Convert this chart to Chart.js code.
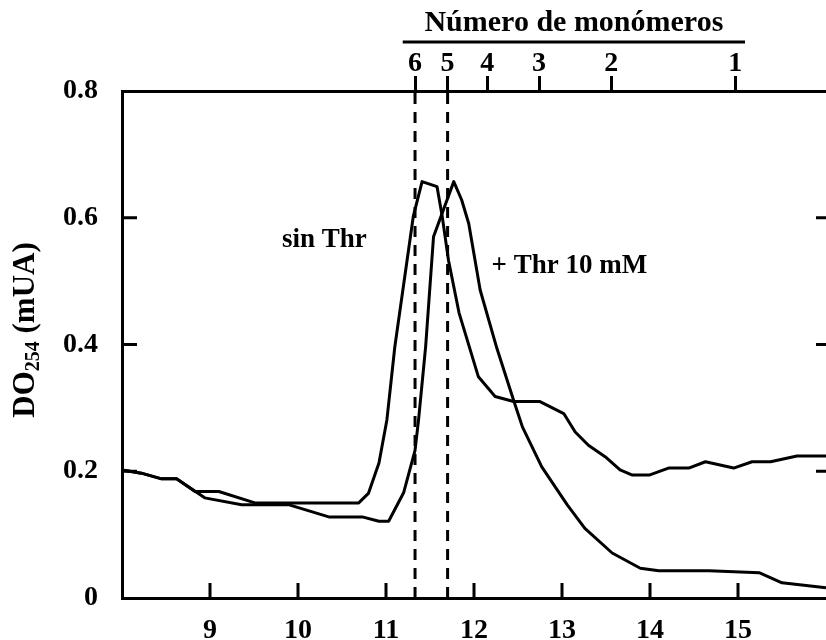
<!DOCTYPE html>
<html>
<head>
<meta charset="utf-8">
<script src="https://cdn.jsdelivr.net/npm/chart.js@4.4.1/dist/chart.umd.min.js"></script>
<style>
  html, body { margin: 0; padding: 0; background: #fff; }
  #wrap { width: 826px; height: 640px; }
</style>
</head>
<body>
<div id="wrap"><canvas id="perfil"></canvas></div>
<script>
// perfil de elución sin treonina
var volSinThr = [8.0, 8.22, 8.45, 8.62, 8.83, 9.10, 9.51, 10.69, 10.80, 10.92, 11.01, 11.10, 11.31, 11.41,
                 11.58, 11.64, 11.71, 11.83, 12.05, 12.24, 12.45, 12.75, 13.02, 13.15, 13.30, 13.49, 13.66,
                 13.80, 13.99, 14.21, 14.44, 14.63, 14.95, 15.16, 15.37, 15.67, 16.0];
var absSinThr = [0.202, 0.197, 0.188, 0.188, 0.168, 0.168, 0.150, 0.150, 0.165, 0.213, 0.281, 0.396, 0.602, 0.657,
                 0.649, 0.601, 0.533, 0.450, 0.349, 0.318, 0.310, 0.310, 0.291, 0.262, 0.241, 0.223, 0.202,
                 0.194, 0.194, 0.205, 0.205, 0.215, 0.205, 0.215, 0.215, 0.224, 0.224];

// perfil de elución con Thr 10 mM
var volConThr = [8.0, 8.22, 8.45, 8.62, 8.94, 9.36, 9.90, 10.35, 10.73, 10.92, 11.03, 11.20, 11.33, 11.37,
                 11.45, 11.54, 11.77, 11.86, 11.94, 12.07, 12.26, 12.45, 12.55, 12.77, 13.06, 13.26, 13.57,
                 13.89, 14.10, 14.67, 15.24, 15.50, 16.0];
var absConThr = [0.202, 0.197, 0.188, 0.188, 0.158, 0.147, 0.147, 0.128, 0.128, 0.121, 0.121, 0.166, 0.233, 0.281,
                 0.396, 0.570, 0.657, 0.628, 0.591, 0.486, 0.394, 0.312, 0.270, 0.207, 0.147, 0.110, 0.071,
                 0.047, 0.043, 0.043, 0.040, 0.024, 0.016];

// patrones de tamaño: número de monómeros y su volumen de elución
var monomeros = ['6', '5', '4', '3', '2', '1'];
var volMonomeros = [11.33, 11.70, 12.15, 12.74, 13.56, 14.97];
// líneas discontinuas en el hexámero y el pentámero
var volMarcas = [volMonomeros[0], volMonomeros[1]];

var rangoX = [8, 16];
var rangoY = [0, 0.8];
var tramoTitulo = [11.19, 15.08];

var serif = '"Liberation Serif", "Times New Roman", serif';
var negro = '#000';

function puntos(xs, ys) {
    return xs.map(function (x, i) { return { x: x, y: ys[i] }; });
}

var datasets = [
    { data: puntos(volSinThr, absSinThr) },
    { data: puntos(volConThr, absConThr) }
];
volMarcas.forEach(function (v) {
    datasets.push({ data: [{ x: v, y: rangoY[0] }, { x: v, y: rangoY[1] }], borderDash: [11, 8], clip: false });
});

var anotaciones = {
    id: 'anotaciones',
    afterDraw: function (chart) {
        var ctx = chart.ctx, area = chart.chartArea;
        var x = chart.scales.x, y = chart.scales.y;
        ctx.save();
        ctx.strokeStyle = negro;
        ctx.fillStyle = negro;
        ctx.lineWidth = 3;

        // marcas hacia dentro en los ejes
        ctx.beginPath();
        x.ticks.forEach(function (t) {
            if (t.value <= rangoX[0] || t.value >= rangoX[1]) return;
            var px = x.getPixelForValue(t.value);
            ctx.moveTo(px, area.bottom);
            ctx.lineTo(px, area.bottom - 15);
        });
        y.ticks.forEach(function (t) {
            if (t.value <= rangoY[0] || t.value >= rangoY[1]) return;
            var py = y.getPixelForValue(t.value);
            ctx.moveTo(area.left, py);
            ctx.lineTo(area.left + 15, py);
            ctx.moveTo(area.right, py);
            ctx.lineTo(area.right - 10, py);
        });
        ctx.stroke();

        // título del eje superior con su raya
        var x0 = x.getPixelForValue(tramoTitulo[0]), x1 = x.getPixelForValue(tramoTitulo[1]);
        ctx.beginPath();
        ctx.moveTo(x0, 42);
        ctx.lineTo(x1, 42);
        ctx.stroke();
        ctx.font = 'bold 30px ' + serif;
        ctx.textAlign = 'center';
        ctx.textBaseline = 'alphabetic';
        ctx.fillText('Número de monómeros', (x0 + x1) / 2, 31);

        // rótulos de las curvas
        ctx.font = 'bold 27px ' + serif;
        ctx.textBaseline = 'middle';
        ctx.textAlign = 'center';
        ctx.fillText('sin Thr', x.getPixelForValue(10.3), y.getPixelForValue(0.565));
        ctx.textAlign = 'left';
        ctx.fillText('+ Thr 10 mM', x.getPixelForValue(12.2), y.getPixelForValue(0.524));

        // título del eje Y con subíndice
        var partes = [
            { t: 'DO', f: 'bold 31px ' + serif, dy: 0 },
            { t: '254', f: 'bold 20px ' + serif, dy: 8 },
            { t: ' (mUA)', f: 'bold 31px ' + serif, dy: 0 }
        ];
        var ancho = 0;
        partes.forEach(function (p) { ctx.font = p.f; p.w = ctx.measureText(p.t).width; ancho += p.w; });
        ctx.translate(26, 330);
        ctx.rotate(-Math.PI / 2);
        ctx.textAlign = 'left';
        ctx.textBaseline = 'middle';
        var cx = -ancho / 2;
        partes.forEach(function (p) {
            ctx.font = p.f;
            ctx.fillText(p.t, cx, p.dy);
            cx += p.w;
        });
        ctx.restore();
    }
};

var fuente = { family: serif, size: 28, weight: 'bold' };

new Chart(document.getElementById('perfil'), {
    type: 'line',
    data: { datasets: datasets },
    options: {
        responsive: true,
        maintainAspectRatio: false,
        animation: false,
        layout: { padding: 0 },
        plugins: { legend: { display: false }, tooltip: { enabled: false } },
        elements: {
            point: { radius: 0 },
            line: { tension: 0, borderWidth: 3, borderColor: negro, borderJoinStyle: 'round', fill: false }
        },
        scales: {
            x: {
                type: 'linear', position: 'bottom', min: rangoX[0], max: rangoX[1],
                grid: { display: false, drawTicks: false },
                border: { display: true, width: 3, color: negro },
                ticks: {
                    stepSize: 1, padding: 16, color: negro, font: fuente, autoSkip: false, maxRotation: 0,
                    callback: function (v) { return (v > rangoX[0] && v < rangoX[1]) ? String(v) : ''; }
                },
                afterFit: function (s) { s.height = 42; s.paddingLeft = 0; s.paddingRight = 0; }
            },
            xMon: {
                type: 'linear', position: 'top', min: rangoX[0], max: rangoX[1],
                afterBuildTicks: function (s) {
                    s.ticks = volMonomeros.map(function (v) { return { value: v }; });
                },
                grid: { display: true, drawOnChartArea: false, drawTicks: true, tickLength: 15, lineWidth: 3, color: negro },
                border: { display: true, width: 3, color: negro },
                ticks: {
                    padding: -5, color: negro, font: fuente, autoSkip: false, maxRotation: 0,
                    callback: function (v, i) { return monomeros[i]; }
                },
                afterFit: function (s) { s.height = 91; s.paddingLeft = 0; s.paddingRight = 0; }
            },
            y: {
                min: rangoY[0], max: rangoY[1],
                grid: { display: false, drawTicks: false },
                border: { display: true, width: 3, color: negro },
                ticks: {
                    stepSize: 0.2, padding: 24, color: negro, font: fuente,
                    callback: function (v) { return v === 0 ? '0' : v.toFixed(1); }
                },
                afterFit: function (s) { s.width = 122; s.paddingTop = 0; s.paddingBottom = 0; }
            }
        }
    },
    plugins: [anotaciones]
});
</script>
</body>
</html>
